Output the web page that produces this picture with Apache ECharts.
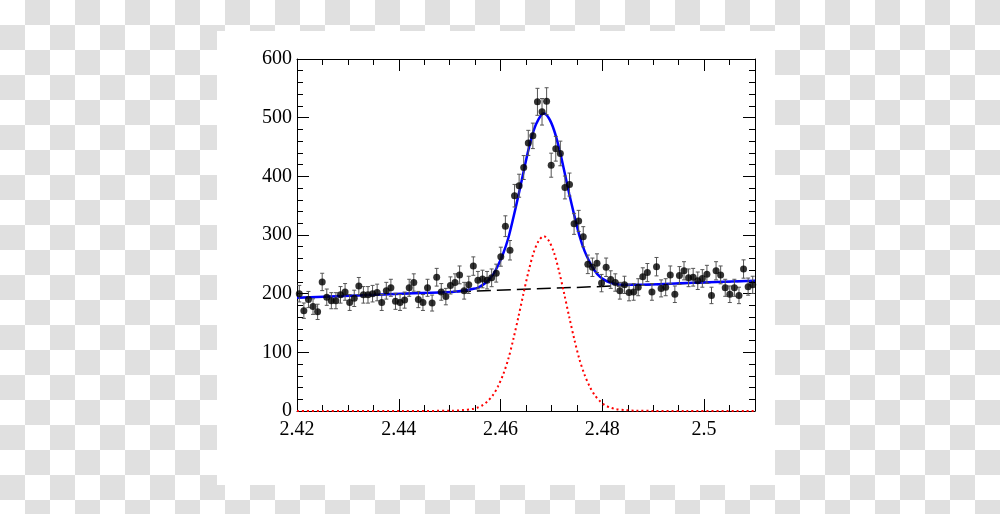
<!DOCTYPE html>
<html>
<head>
<meta charset="utf-8">
<script src="https://cdn.jsdelivr.net/npm/echarts@6/dist/echarts.min.js"></script>
<style>
  html, body { margin: 0; padding: 0; width: 1000px; height: 514px; overflow: hidden; }
  body { background: repeating-conic-gradient(#e0e0e0 0 25%, #ffffff 0 50%) 0 0 / 50px 50px; position: relative; }
  #paper { position: absolute; left: 217px; top: 31px; width: 558px; height: 454px; background: #fff; }
  #chart { position: absolute; left: 0; top: 0; width: 1000px; height: 514px; }
</style>
</head>
<body>
<div id="paper"></div>
<div id="chart"></div>
<script>
// Histogram binning (bins of equal width starting at binStart)
const binStart = 2.42;
const binWidth = 0.0009;

// Data counts per bin
const counts = [
  200,171,190,178,169,220,194,188,188,198,203,185,192,213,198,198,200,
  202,185,205,210,187,185,189,210,219,190,185,210,184,228,
  203,195,214,219,232,205,215,247,223,225,223,227,235,263,315,274,367,384,415,457,469,527,510,528,419,447,439,381,386,319,324,297,250,245,252,
  218,245,224,219,205,215,202,203,211,229,236,203,246,209,211,232,199,231,239,227,228,222,226,233,197,239,232,210,199,210,197,242,212,215
];

// Error bar half-lengths per bin
const errors = [
  14.1,13.1,13.8,13.3,13,14.8,13.9,13.7,13.7,14.1,14.2,13.6,13.9,14.6,14.1,14.1,14.1,
  14.2,13.6,14.3,14.5,13.7,13.6,13.7,14.5,14.8,13.8,13.6,14.5,13.6,15.1,
  14.2,14,14.6,14.8,15.2,14.3,14.7,15.7,14.9,15,14.9,15.1,15.3,16.2,17.7,16.6,19.2,19.6,20.4,21.4,21.7,23,22.6,23,20.5,21.1,21,19.5,19.6,17.9,18,17.2,15.8,15.7,15.9,
  14.8,15.7,15,14.8,14.3,14.7,14.2,14.2,14.5,15.1,15.4,14.2,15.7,14.5,14.5,15.2,14.1,15.2,15.5,15.1,15.1,14.9,15,15.3,14,15.5,15.2,14.5,14.1,14.5,14,15.6,14.6,14.7
];

const curveX = [2.42,2.4405,2.4505,2.4525,2.4545,2.4555,2.4565,2.4575,2.4585,2.4595,2.4605,2.4615,2.4625,2.4635,2.4645,2.4655,2.4665,2.4675,2.4685,2.4695,2.4705,2.4715,2.4725,2.4735,2.4745,2.4755,2.4765,2.4775,2.4785,2.4795,2.4805,2.4815,2.4825,2.4845,2.4865,2.4965,2.51];
const totalY = [193,200,203,205,208,210,215,222,232,248,268,294,329,367,407,446,478,498,507,499,479,448,410,370,333,299,273,254,239,229,223,219,217,215,215,218,222];
const signalY = [0,0,0.5,1.5,3.5,6,10,17,27,42,62,88,122,160,200,238,270,290,298,290,270,238,200,160,122,88,62,42,27,17,10,6,3.5,1.5,0.5,0,0];
const bgX = [2.42, 2.51];
const bgY = [193, 222];

// Axis settings
const xMin = 2.42, xMax = 2.51, xStep = 0.02;
const yMin = 0, yMax = 600, yStep = 100;

const centers = counts.map((_, i) => +(binStart + binWidth * (i + 0.5)).toFixed(5));
const points = counts.map((c, i) => [centers[i], c]);
const bars = counts.map((c, i) => [centers[i], c - errors[i], c + errors[i]]);
const zip = (xs, ys) => xs.map((x, i) => [x, ys[i]]);

const font = { fontFamily: 'Liberation Serif', fontSize: 20, color: '#000' };
const axisCommon = {
  type: 'value',
  axisLine: { show: true, onZero: false, lineStyle: { color: '#000', width: 1 } },
  axisTick: { show: true, inside: true, length: 12, lineStyle: { color: '#000', width: 1 } },
  minorTick: { show: true, length: 6, lineStyle: { color: '#000', width: 1 } },
  splitLine: { show: false },
  minorSplitLine: { show: false }
};

const chart = echarts.init(document.getElementById('chart'), null, { renderer: 'canvas' });
chart.setOption({
  backgroundColor: 'transparent',
  animation: false,
  grid: { left: 297, top: 59, right: 245, bottom: 103, containLabel: false },
  xAxis: [
    Object.assign({}, axisCommon, {
      position: 'bottom', min: xMin, max: xMax, interval: xStep,
      minorTick: Object.assign({}, axisCommon.minorTick, { splitNumber: 4 }),
      axisLabel: Object.assign({}, font, { margin: 9, showMaxLabel: false,
        formatter: v => String(+(+v).toFixed(2)) })
    }),
    Object.assign({}, axisCommon, {
      position: 'top', min: xMin, max: xMax, interval: xStep,
      minorTick: Object.assign({}, axisCommon.minorTick, { splitNumber: 4 }),
      axisLabel: { show: false }
    })
  ],
  yAxis: [
    Object.assign({}, axisCommon, {
      position: 'left', min: yMin, max: yMax, interval: yStep,
      minorTick: Object.assign({}, axisCommon.minorTick, { splitNumber: 5 }),
      axisLabel: Object.assign({}, font, { margin: 5 })
    }),
    Object.assign({}, axisCommon, {
      position: 'right', min: yMin, max: yMax, interval: yStep,
      minorTick: Object.assign({}, axisCommon.minorTick, { splitNumber: 5 }),
      axisLabel: { show: false }
    })
  ],
  series: [
    {
      type: 'line', data: zip(bgX, bgY), symbol: 'none', z: 2,
      lineStyle: { color: '#000', width: 1.5, type: [14, 6] }
    },
    {
      type: 'line', data: zip(curveX, signalY), symbol: 'none', smooth: 0.3, z: 2,
      lineStyle: { color: '#ff0000', width: 2, type: [2, 3] }
    },
    {
      type: 'line', data: zip(curveX, totalY), symbol: 'none', smooth: 0.3, z: 3,
      lineStyle: { color: '#0000ff', width: 2.5 }
    },
    {
      type: 'custom', z: 4,
      data: bars,
      renderItem: function (params, api) {
        const top = api.coord([api.value(0), api.value(2)]);
        const bot = api.coord([api.value(0), api.value(1)]);
        const cap = 2;
        const style = { stroke: '#555', lineWidth: 1 };
        return {
          type: 'group',
          children: [
            { type: 'line', shape: { x1: top[0], y1: top[1], x2: bot[0], y2: bot[1] }, style },
            { type: 'line', shape: { x1: top[0] - cap, y1: top[1], x2: top[0] + cap, y2: top[1] }, style },
            { type: 'line', shape: { x1: bot[0] - cap, y1: bot[1], x2: bot[0] + cap, y2: bot[1] }, style }
          ]
        };
      }
    },
    {
      type: 'scatter', data: points, symbol: 'circle', symbolSize: 7, z: 5,
      itemStyle: { color: '#000' }
    }
  ]
});
</script>
</body>
</html>
